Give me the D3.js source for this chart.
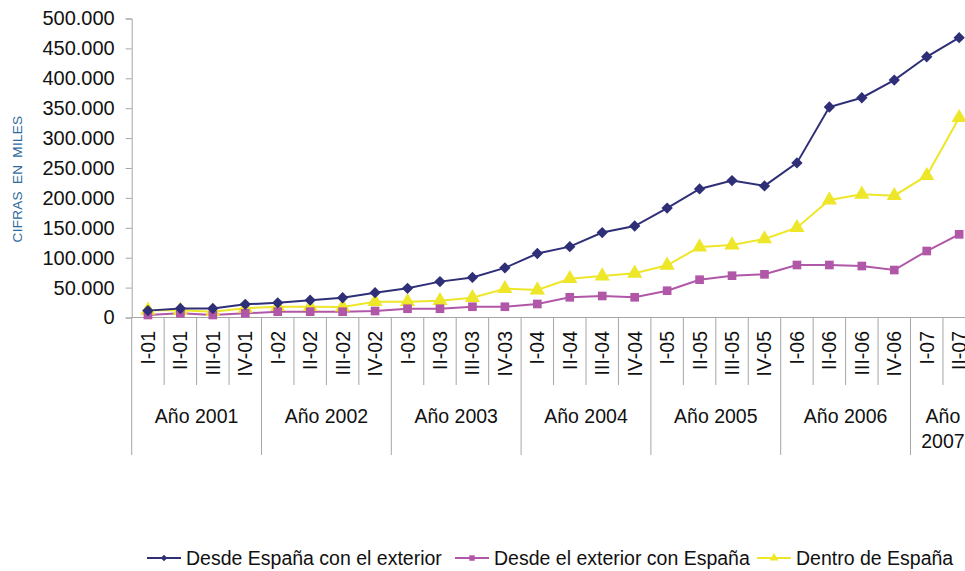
<!DOCTYPE html>
<html><head><meta charset="utf-8">
<script src="https://cdn.jsdelivr.net/npm/d3@7"></script>
<style>
html,body{margin:0;padding:0;background:#fff;}
svg{display:block;font-family:"Liberation Sans",Arial,sans-serif;}
</style></head>
<body>
<svg id="chart" width="965" height="571"></svg>
<script>
const quarters = ["I-01","II-01","III-01","IV-01","I-02","II-02","III-02","IV-02","I-03","II-03","III-03","IV-03","I-04","II-04","III-04","IV-04","I-05","II-05","III-05","IV-05","I-06","II-06","III-06","IV-06","I-07","II-07"];
const years = ["Año 2001","Año 2002","Año 2003","Año 2004","Año 2005","Año 2006","Año 2007"];
const quartersPerYear = [4,4,4,4,4,4,2];
const seriesNames = ["Desde España con el exterior","Desde el exterior con España","Dentro de España"];
const desdeEspana = [11.5,15,15,22,24.5,29,33,41.5,48.8,60,67,83,107,118.5,142,153,183,215,229,220,258.5,352,367.5,397,436,468];
const desdeExterior = [4.2,7,4.2,7,9.7,9.7,9.7,10.9,14.7,14.7,18,18,22.6,33.8,36,33.8,44.8,63.2,69.9,72.2,87.8,87.8,86.1,79.4,111.2,139.1];
const dentro = [12,12,9.7,15.4,18,18,17.5,26.4,26.4,28.1,33.1,48.2,46,64.9,69.4,73.9,87.3,117.9,121.2,131.3,150.2,196.5,206,203.7,237.1,334.1];
const yTicks = [0,50000,100000,150000,200000,250000,300000,350000,400000,450000,500000];
const colors = ["#2f2f78","#b057a8","#eee629"];

const svg = d3.select("#chart");
const x0 = 131.7, x1 = 975.4, yTop = 18.5, yBot = 317.5;
const x = d3.scaleBand().domain(quarters).range([x0, x1]).padding(0);
const y = d3.scaleLinear().domain([0, 500000]).range([yBot, yTop]);
const axisColor = "#a6a6a6";

// Y axis
const fmt = v => v === 0 ? "0" : d3.format(",")(v).replace(/,/g, ".");
const yAxis = d3.axisLeft(y).tickValues(yTicks).tickSize(6).tickFormat(fmt);
const gy = svg.append("g").attr("transform", `translate(${x0},0)`).call(yAxis);
gy.select(".domain").attr("stroke", axisColor);
gy.selectAll(".tick line").attr("stroke", axisColor);
gy.selectAll(".tick text").attr("font-size", 20).attr("fill", "#111").attr("x", -17).attr("font-family", "Liberation Sans, Arial, sans-serif");

// Y title
svg.append("text").attr("transform", `translate(22,179) rotate(-90)`)
  .attr("text-anchor", "middle").attr("font-size", 13.5).attr("fill", "#2e6a9e")
  .attr("letter-spacing", 0.3).style("word-spacing", "3px")
  .text("CIFRAS EN MILES");

// X axis baseline
svg.append("line").attr("x1", x0).attr("x2", x1).attr("y1", yBot).attr("y2", yBot).attr("stroke", axisColor);
svg.append("line").attr("x1", x0).attr("x2", x0).attr("y1", yBot).attr("y2", 455).attr("stroke", axisColor);

// quarter separators & year separators
let idx = 0;
const yearStarts = [];
quartersPerYear.forEach((n) => { yearStarts.push(idx); idx += n; });
quarters.forEach((q, i) => {
  if (i === 0) return;
  const xx = x(q);
  const isYear = yearStarts.includes(i);
  svg.append("line").attr("x1", xx).attr("x2", xx).attr("y1", yBot).attr("y2", isYear ? 455 : 385).attr("stroke", axisColor);
});
svg.append("line").attr("x1", x1).attr("x2", x1).attr("y1", yBot).attr("y2", 455).attr("stroke", axisColor);

// quarter labels
svg.append("g").selectAll("text").data(quarters).join("text")
  .attr("transform", d => `translate(${x(d) + x.bandwidth()/2 + 7},331) rotate(-90)`)
  .attr("text-anchor", "end").attr("font-size", 19.5).attr("fill", "#111")
  .text(d => d);

// year labels
years.forEach((yr, k) => {
  const s = yearStarts[k], n = quartersPerYear[k];
  const left = x(quarters[s]), right = x(quarters[s + n - 1]) + x.bandwidth();
  const cx = (left + right) / 2;
  const t = svg.append("text").attr("x", cx).attr("y", 423).attr("text-anchor", "middle")
    .attr("font-size", 19.5).attr("fill", "#111").text(yr);
  if (t.node().getComputedTextLength() > right - left - 4) {
    const parts = yr.split(" ");
    t.text(null);
    t.append("tspan").attr("x", cx).attr("y", 423).text(parts[0]);
    t.append("tspan").attr("x", cx).attr("y", 448).text(parts[1]);
  }
});

// series
const series = [desdeEspana, desdeExterior, dentro];
const cx = i => x(quarters[i]) + x.bandwidth() / 2;
const line = d3.line().x((d, i) => cx(i)).y(d => y(d * 1000));
const symbols = [d3.symbolSquare, d3.symbolSquare, d3.symbolTriangle];
const rotations = [45, 0, 0];
const sizes = [64, 75, 100];
const plot = svg.append("g");
[2, 1, 0].forEach(s => {
  plot.append("path").datum(series[s]).attr("d", line).attr("fill", "none")
    .attr("stroke", colors[s]).attr("stroke-width", 2);
});
[2, 1, 0].forEach(s => {
  plot.append("g").selectAll("path").data(series[s]).join("path")
    .attr("transform", (d, i) => `translate(${cx(i)},${y(d * 1000)}) rotate(${rotations[s]})`)
    .attr("d", d3.symbol().type(symbols[s]).size(sizes[s])())
    .attr("fill", colors[s]);
});

// legend
const legX = [147, 455, 757];
const legSizes = [22, 30, 34];
const legendG = svg.append("g");
seriesNames.forEach((name, s) => {
  const lx = legX[s];
  legendG.append("line").attr("x1", lx).attr("x2", lx + 34).attr("y1", 558).attr("y2", 558)
    .attr("stroke", colors[s]).attr("stroke-width", 2);
  legendG.append("path").attr("transform", `translate(${lx + 17},558) rotate(${rotations[s]})`)
    .attr("d", d3.symbol().type(symbols[s]).size(legSizes[s])()).attr("fill", colors[s]);
  legendG.append("text").attr("x", lx + 39).attr("y", 565).attr("font-size", 19.5).attr("fill", "#111").text(name);
});
</script>
</body></html>
